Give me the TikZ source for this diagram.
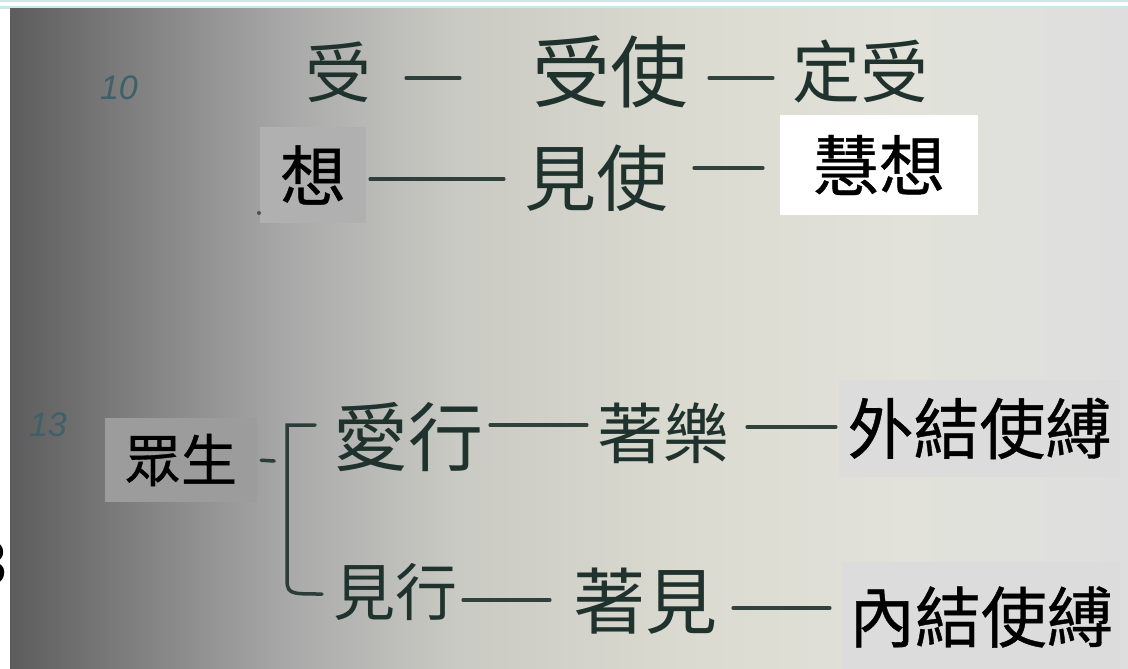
\documentclass[tikz,border=0pt]{standalone}
\usepackage{fontspec}
\setmainfont{Liberation Sans}
\newfontfamily\cjk{Noto Sans CJK TC}
\newfontfamily\cjkbox{Noto Sans CJK TC}[FakeBold=0.6]

\definecolor{ink}{HTML}{1F322D}
\definecolor{numink}{HTML}{3E6068}
\definecolor{band}{HTML}{CDE6EA}
\definecolor{boxA}{HTML}{B0B0B0}
\definecolor{boxB}{HTML}{9C9C9C}
\definecolor{boxC}{HTML}{DCDCDC}
\definecolor{bgA}{HTML}{5C5C5C}
\definecolor{bgB}{HTML}{7C7C7C}
\definecolor{bgC}{HTML}{A9A9A9}
\definecolor{bgD}{HTML}{CACAC4}
\definecolor{bgE}{HTML}{DADAD0}
\definecolor{bgF}{HTML}{E2E2DA}
\definecolor{bgG}{HTML}{DEDEDE}

\pgfdeclarehorizontalshading{photo}{100bp}{color(0bp)=(bgA); color(25bp)=(bgA);
  color(30bp)=(bgB); color(37.5bp)=(bgC); color(45bp)=(bgD); color(55bp)=(bgE);
  color(65bp)=(bgF); color(75bp)=(bgG); color(100bp)=(bgG)}

\begin{document}
\begin{tikzpicture}[x=1pt,y=-1pt,
    hand/.style={font=\cjk\fontsize{#1}{#1}\selectfont, text=ink, inner sep=0pt},
    numeral/.style={font=\itshape\fontsize{34}{34}\selectfont, text=numink, inner sep=0pt},
    labelbox/.style={fill=#1, text=black, inner sep=0pt},
    stroke/.style={draw=ink, line width=3.5pt, line cap=round, opacity=0.9}]

   \useasboundingbox (0,0) rectangle (1128,669);

   % paper and frame
   \fill[band] (0,0) rectangle (1128,9);
   \fill[white] (0,2) rectangle (1128,6);
   \fill[white] (0,9) rectangle (10,669);
   \shade[shading=photo] (10,9) rectangle (1128,669);
   \node[font=\bfseries\fontsize{62}{62}\selectfont, anchor=east, inner sep=0pt] (three) at (7,563) {3};

   % row 10
   \node[numeral] (ten) at (119,88) {10};
   \node[hand=66] (shou) at (338,72) {受};
   \node[hand=78] (shoushi) at (610,72) {受使};
   \node[hand=68] (dingshou) at (860,72) {定受};
   \draw[stroke, shorten <=35, shorten >=72] ([yshift=-6pt]shou.east) -- ([yshift=-6pt]shoushi.west);
   \draw[stroke, shorten <=21, shorten >=19] ([yshift=-6pt]shoushi.east) -- ([yshift=-6pt]dingshou.west);

   \node[labelbox=boxA, minimum width=106, minimum height=96,
         font=\cjkbox\fontsize{66}{66}\selectfont] (xiang) at (313,175) {想};
   \node[hand=72] (jianshi) at (596,178) {見使};
   \node[labelbox=white, minimum width=198, minimum height=100,
         font=\cjkbox\fontsize{66}{66}\selectfont] (huixiang) at (879,165) {慧想};
   \draw[stroke, shorten <=4, shorten >=20] ([yshift=-4pt]xiang.east) -- ([yshift=-4pt]xiang.east -| jianshi.west);
   \draw[stroke, shorten <=26, shorten >=17] ([yshift=10pt]jianshi.east) -- ([yshift=10pt]jianshi.east -| huixiang.west);
   \fill[ink, opacity=0.7] (259,213) circle (2);

   % row 13
   \node[numeral] (thirteen) at (48,425) {13};
   \node[labelbox=boxB, minimum width=152, minimum height=84,
         font=\cjkbox\fontsize{56}{56}\selectfont] (zhong) at (181,460) {眾生};
   \coordinate (brtop) at (287,425);
   \coordinate (brbot) at (287,575);
   \draw[stroke, shorten <=4] (zhong.east) -- ++(17,1);
   \draw[stroke] (315,425) -- (brtop) -- (brbot) .. controls (287,594) .. (322,594);

   \node[hand=75] (aixing) at (408,437) {愛行};
   \node[hand=66] (zhule) at (663,433) {著樂};
   \node[labelbox=boxC, minimum width=281, minimum height=97,
         font=\cjkbox\fontsize{66}{66}\selectfont] (waijie) at (979.5,428.5) {外結使縛};
   \draw[stroke, shorten <=7, shorten >=10] ([yshift=12pt]aixing.east) -- ([yshift=12pt]aixing.east -| zhule.west);
   \draw[stroke, shorten <=18, shorten >=3] ([yshift=6pt]zhule.east) -- ([yshift=6pt]zhule.east -| waijie.west);

   \node[hand=62] (jianxing) at (395,592) {見行};
   \node[hand=72] (zhujian) at (645,601) {著見};
   \node[labelbox=boxC, minimum width=278, minimum height=110,
         font=\cjkbox\fontsize{66}{66}\selectfont] (neijie) at (981,617) {內結使縛};
   \draw[stroke, shorten <=6, shorten >=23] ([yshift=-8pt]jianxing.east) -- ([yshift=-8pt]jianxing.east -| zhujian.west);
   \draw[stroke, shorten <=16, shorten >=12] ([yshift=-7pt]zhujian.east) -- ([yshift=-7pt]zhujian.east -| neijie.west);
\end{tikzpicture}
\end{document}
